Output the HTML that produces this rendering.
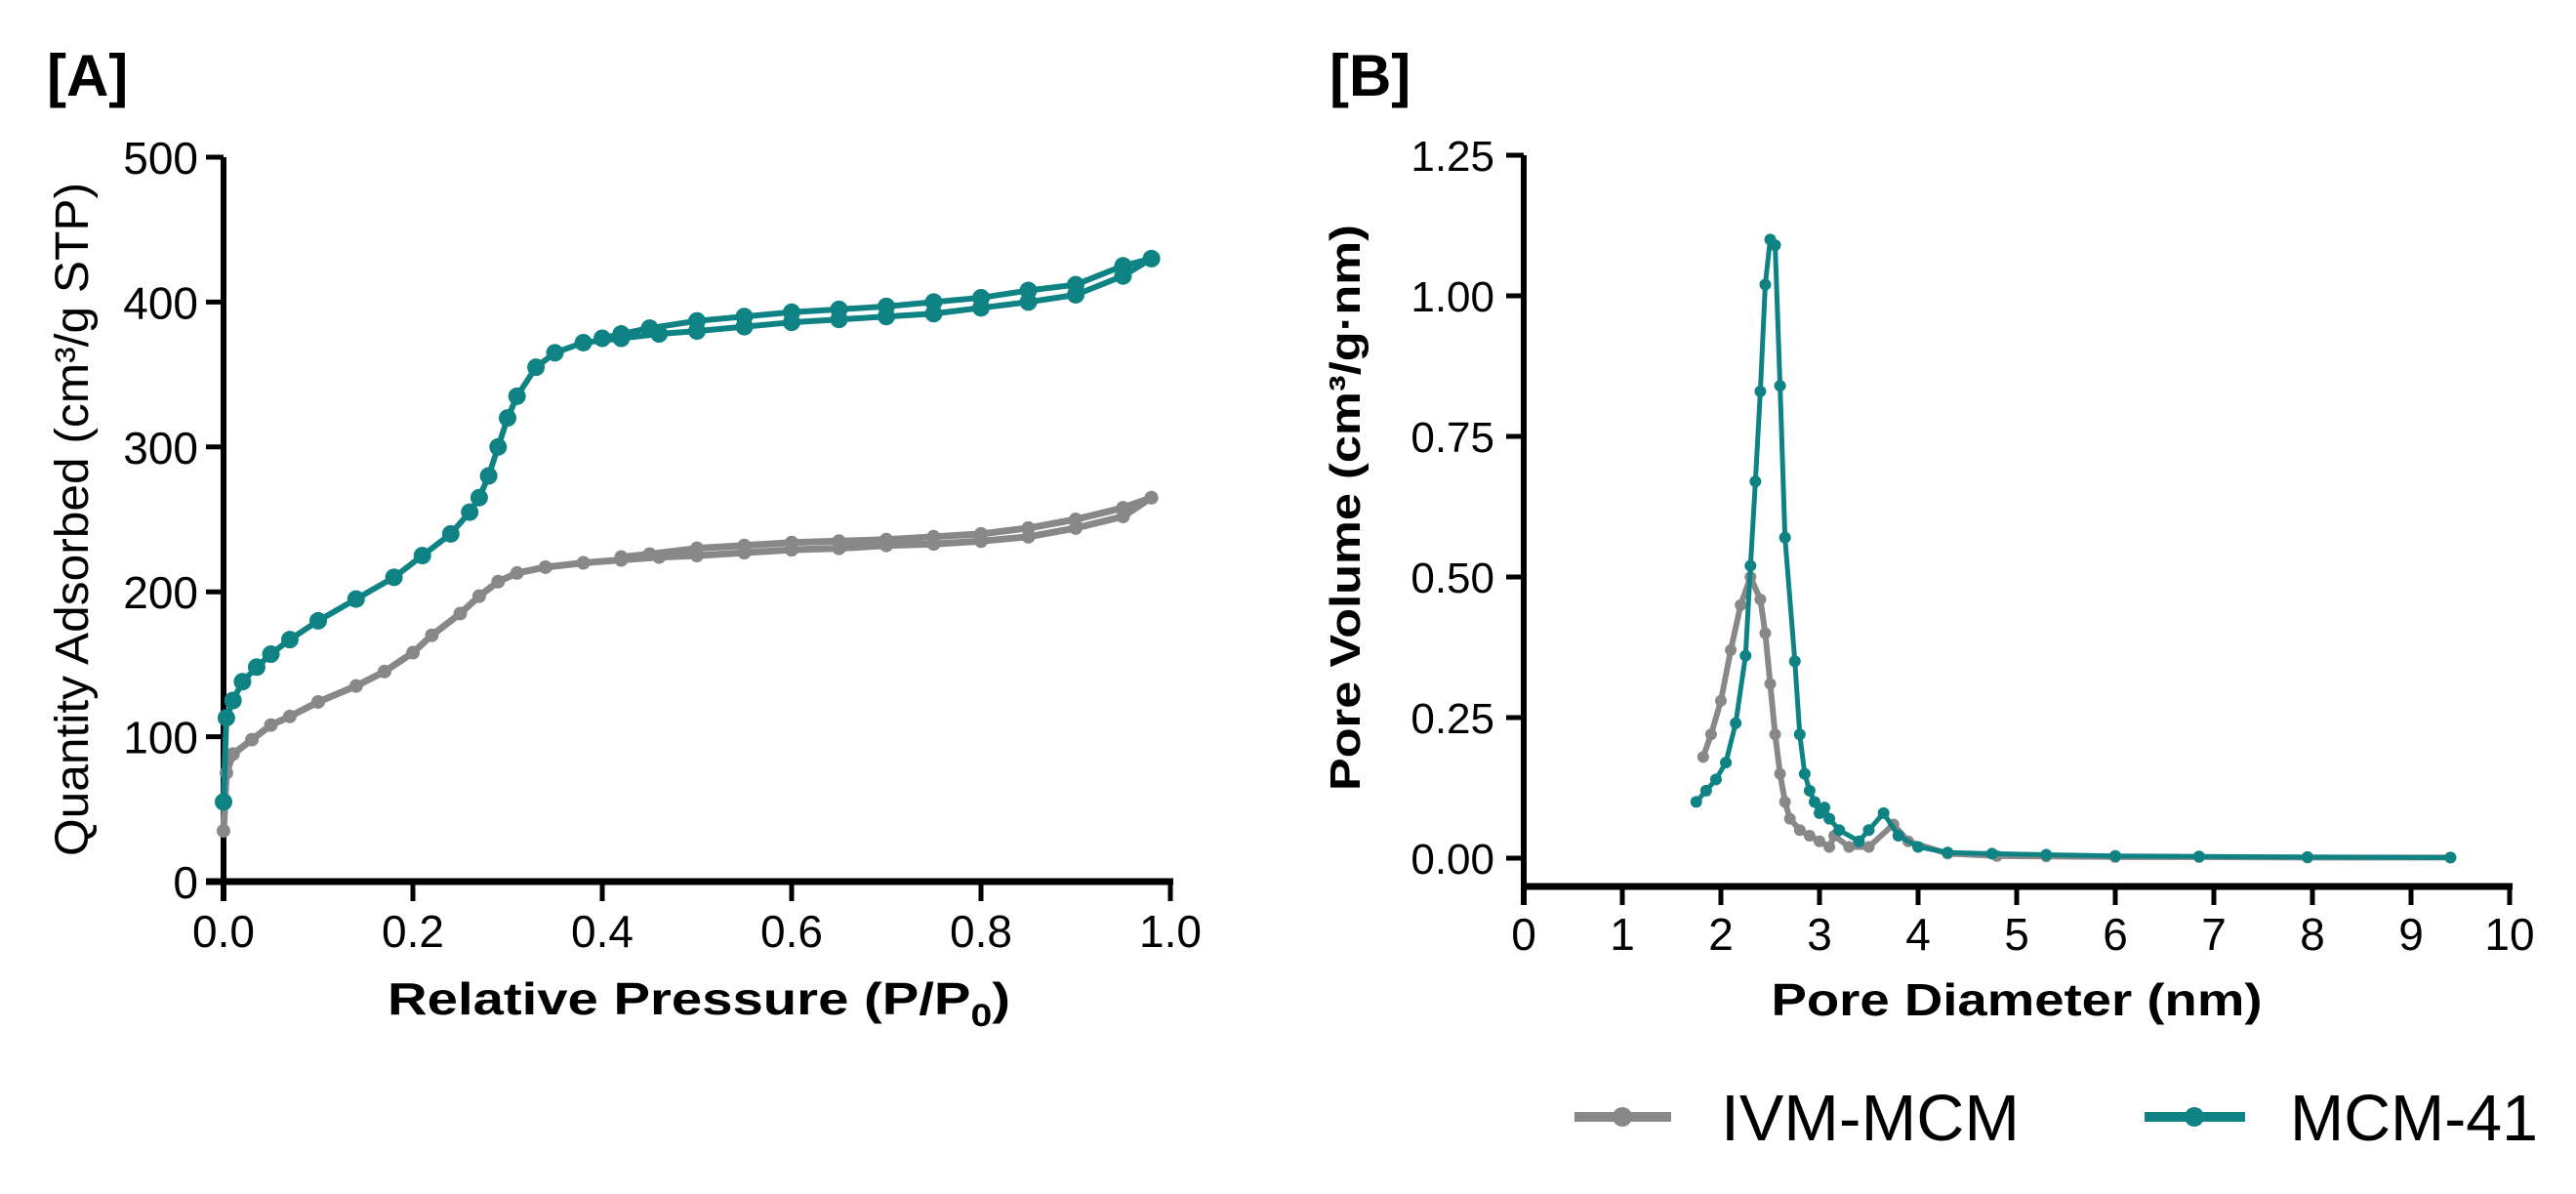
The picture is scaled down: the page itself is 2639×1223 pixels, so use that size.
<!DOCTYPE html>
<html><head><meta charset="utf-8"><style>
body{margin:0;background:#fff}
svg{display:block}
text{font-family:"Liberation Sans",Arial,sans-serif;fill:#000}
</style></head><body>
<svg id="svg" width="2639" height="1223" viewBox="0 0 2639 1223" xmlns="http://www.w3.org/2000/svg">
<text x="48" y="98" font-size="60" font-weight="bold">[A]</text>
<text x="1362" y="98" font-size="60" font-weight="bold">[B]</text>
<g id="gA"></g>
<g id="gB"></g>
<text transform="translate(90,532) rotate(-90)" text-anchor="middle" font-size="48" textLength="690" lengthAdjust="spacingAndGlyphs">Quantity Adsorbed (cm³/g STP)</text>
<text x="716" y="1039" text-anchor="middle" font-size="46" font-weight="bold" textLength="638" lengthAdjust="spacingAndGlyphs">Relative Pressure (P/P<tspan font-size="32" dy="12">0</tspan><tspan dy="-12">)</tspan></text>
<text transform="translate(1393,520) rotate(-90)" text-anchor="middle" font-size="44" font-weight="bold" textLength="580" lengthAdjust="spacingAndGlyphs">Pore Volume (cm³/g·nm)</text>
<text x="2066" y="1040" text-anchor="middle" font-size="46" font-weight="bold" textLength="503" lengthAdjust="spacingAndGlyphs">Pore Diameter (nm)</text>
<g>
<g>
<line x1="1613" y1="1144" x2="1712" y2="1144" stroke="#888" stroke-width="10"/><circle cx="1662" cy="1144" r="10" fill="#888"/>
<text x="1763" y="1168" font-size="67" textLength="306" lengthAdjust="spacingAndGlyphs">IVM-MCM</text></g>
<g>
<line x1="2197" y1="1144" x2="2300" y2="1144" stroke="#0f8383" stroke-width="10"/><circle cx="2248" cy="1144" r="10" fill="#0f8383"/>
<text x="2346" y="1168" font-size="67" textLength="254" lengthAdjust="spacingAndGlyphs">MCM-41</text></g>
</g>
</svg>
<script>
const aTicksX=[0,0.2,0.4,0.6,0.8,1.0];
const aTicksXLabels=["0.0","0.2","0.4","0.6","0.8","1.0"];
const aTicksY=[0,100,200,300,400,500];
const aMcmX=[0,0.003,0.01,0.02,0.035,0.05,0.07,0.1,0.14,0.18,0.21,0.24,0.26,0.27,0.28,0.29,0.3,0.31,0.33,0.35,0.38,0.42,0.46,0.5,0.55,0.6,0.65,0.7,0.75,0.8,0.85,0.9,0.95,0.98,0.95,0.9,0.85,0.8,0.75,0.7,0.65,0.6,0.55,0.5,0.45,0.42,0.4];
const aMcmY=[55,113,125,138,148,157,167,180,195,210,225,240,255,265,280,300,320,335,355,365,372,375,378,380,383,386,388,390,392,396,400,405,418,430,425,412,408,403,400,397,395,393,390,387,382,378,375];
const aIvmX=[0,0.003,0.01,0.03,0.05,0.07,0.1,0.14,0.17,0.2,0.22,0.25,0.27,0.29,0.31,0.34,0.38,0.42,0.46,0.5,0.55,0.6,0.65,0.7,0.75,0.8,0.85,0.9,0.95,0.98,0.95,0.9,0.85,0.8,0.75,0.7,0.65,0.6,0.55,0.5,0.45,0.42];
const aIvmY=[35,75,88,98,108,114,124,135,145,158,170,185,197,207,213,217,220,222,224,225,227,229,230,232,233,235,238,244,252,265,258,250,244,240,238,236,235,234,232,230,226,224];
const bTicksX=[0,1,2,3,4,5,6,7,8,9,10];
const bTicksY=[0,0.25,0.5,0.75,1.0,1.25];
const bTicksYLabels=["0.00","0.25","0.50","0.75","1.00","1.25"];
const bMcmX=[1.75,1.85,1.95,2.05,2.15,2.25,2.3,2.35,2.4,2.45,2.5,2.55,2.6,2.65,2.75,2.8,2.85,2.9,2.95,3.0,3.05,3.1,3.2,3.4,3.5,3.65,3.8,4.0,4.3,4.75,5.3,6.0,6.85,7.95,9.4];
const bMcmY=[0.10,0.12,0.14,0.17,0.24,0.36,0.52,0.67,0.83,1.02,1.10,1.09,0.84,0.57,0.35,0.22,0.15,0.12,0.10,0.08,0.09,0.07,0.05,0.03,0.05,0.08,0.04,0.02,0.01,0.008,0.006,0.004,0.003,0.002,0.001];
const bIvmX=[1.82,1.9,2.0,2.1,2.2,2.3,2.4,2.45,2.5,2.55,2.6,2.65,2.7,2.8,2.9,3.0,3.1,3.15,3.3,3.5,3.75,3.9,4.3,4.8,5.3,6.0,6.85,7.95,9.4];
const bIvmY=[0.18,0.22,0.28,0.37,0.45,0.50,0.46,0.40,0.31,0.22,0.15,0.10,0.07,0.05,0.04,0.03,0.02,0.04,0.02,0.02,0.06,0.03,0.008,0.004,0.003,0.002,0.002,0.001,0.001];

const NS="http://www.w3.org/2000/svg";
function mk(p,t,a){const e=document.createElementNS(NS,t);for(const k in a)e.setAttribute(k,a[k]);p.appendChild(e);return e;}
let e;
// Panel A
const gA=document.getElementById('gA');
const axL=229,axR=1199,ayT=161,ayB=903;
const xA=v=>axL+v*(axR-axL), yA=v=>ayB-v/500*(ayB-ayT);
e=mk(gA,'line',{x1:axL,y1:ayT,x2:axL,y2:ayB+20,stroke:'#000','stroke-width':6});


e=mk(gA,'line',{x1:axL-18,y1:ayB,x2:axR+3,y2:ayB,stroke:'#000','stroke-width':7});


aTicksY.forEach(v=>{mk(gA,'line',{x1:axL-18,y1:yA(v),x2:axL,y2:yA(v),stroke:'#000','stroke-width':5});
 e=mk(gA,'text',{x:axL-26,y:yA(v)+17,'text-anchor':'end','font-size':46});e.textContent=v;
 
 });
aTicksX.forEach((v,i)=>{mk(gA,'line',{x1:xA(v),y1:ayB,x2:xA(v),y2:ayB+20,stroke:'#000','stroke-width':5});
 e=mk(gA,'text',{x:xA(v),y:970,'text-anchor':'middle','font-size':46});e.textContent=aTicksXLabels[i];
 
 });
function series(g,X,Y,fx,fy,col,w,r,name){
 const pts=X.map((x,i)=>fx(x)+','+fy(Y[i])).join(' ');
 const s=mk(g,'g',{});
 
 
 mk(s,'polyline',{points:pts,fill:'none',stroke:col,'stroke-width':w,'stroke-linejoin':'round'});
 X.forEach((x,i)=>mk(s,'circle',{cx:fx(x),cy:fy(Y[i]),r:r,fill:col}));
}
series(gA,aIvmX,aIvmY,xA,yA,'#888',7,7,'series-ivm-mcm-isotherm');
series(gA,aMcmX,aMcmY,xA,yA,'#0f8383',6,9,'series-mcm-41-isotherm');
// Panel B
const gB=document.getElementById('gB');
const bxL=1561,bxR=2571,byT=159,byB=879,bAxis=908;
const xB=v=>bxL+v/10*(bxR-bxL), yB=v=>byB-v/1.25*(byB-byT);
e=mk(gB,'line',{x1:bxL,y1:byT,x2:bxL,y2:bAxis+19,stroke:'#000','stroke-width':6});


e=mk(gB,'line',{x1:bxL-3,y1:bAxis,x2:bxR+3,y2:bAxis,stroke:'#000','stroke-width':7});


bTicksY.forEach((v,i)=>{mk(gB,'line',{x1:bxL-18,y1:yB(v),x2:bxL,y2:yB(v),stroke:'#000','stroke-width':5});
 e=mk(gB,'text',{x:bxL-30,y:yB(v)+16,'text-anchor':'end','font-size':44});e.textContent=bTicksYLabels[i];
 
 });
bTicksX.forEach(v=>{mk(gB,'line',{x1:xB(v),y1:bAxis,x2:xB(v),y2:bAxis+19,stroke:'#000','stroke-width':5});
 e=mk(gB,'text',{x:xB(v),y:973,'text-anchor':'middle','font-size':46});e.textContent=v;
 
 });
series(gB,bIvmX,bIvmY,xB,yB,'#888',6,6,'series-ivm-mcm-psd');
series(gB,bMcmX,bMcmY,xB,yB,'#0f8383',5,6,'series-mcm-41-psd');
</script>
</body></html>
